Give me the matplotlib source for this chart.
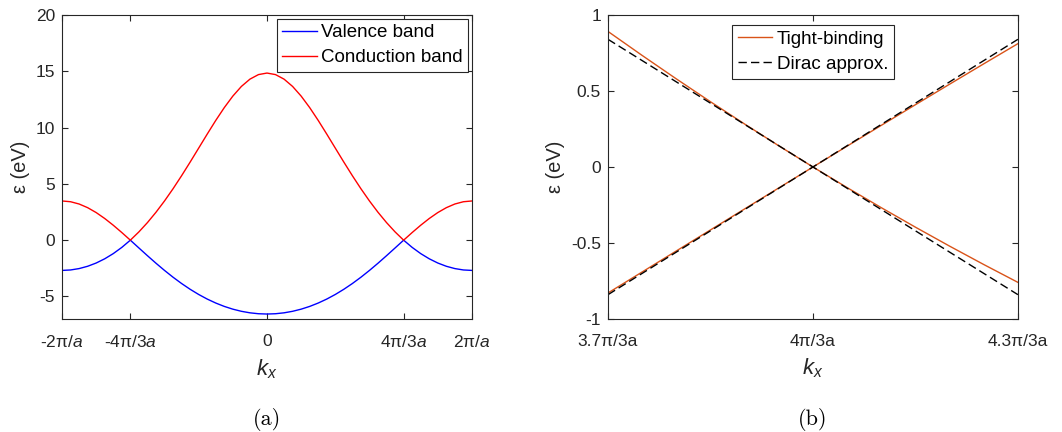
import numpy as np
import matplotlib
matplotlib.use("Agg")
import matplotlib.pyplot as plt

plt.rcParams['font.family'] = ['Liberation Sans', 'DejaVu Sans']
plt.rcParams['mathtext.fontset'] = 'custom'
plt.rcParams['mathtext.rm'] = 'Liberation Sans'
plt.rcParams['mathtext.it'] = 'Liberation Sans:italic'

# panel (a): kx in units of pi/a, sampled every 1/12
k_twelfths = list(range(-24, 25))
cond_half = [14.843, 14.706, 14.301, 13.653, 12.796, 11.774, 10.634, 9.420, 8.175,
             6.933, 5.724, 4.568, 3.482, 2.477, 1.560, 0.734, 0.000, 0.679, 1.327,
             1.925, 2.452, 2.887, 3.213, 3.414, 3.482]
val_half = [-6.560, -6.533, -6.452, -6.317, -6.127, -5.883, -5.583, -5.230, -4.822,
            -4.361, -3.849, -3.290, -2.686, -2.046, -1.377, -0.691, 0.000, -0.642,
            -1.193, -1.654, -2.029, -2.318, -2.523, -2.646, -2.686]
conduction = cond_half[:0:-1] + cond_half
valence = val_half[:0:-1] + val_half
ticks_a = [-2, -4 / 3, 0, 4 / 3, 2]
ticklabels_a = [r'-2π/$a$', r'-4π/3$a$', '0', r'4π/3$a$', r'2π/$a$']

# panel (b): kx in units of pi/3a near K
k_b = [3.70, 3.75, 3.80, 3.85, 3.90, 3.95, 4.00, 4.05, 4.10, 4.15, 4.20, 4.25, 4.30]
tb_upper = [0.8917, 0.7339, 0.5797, 0.4292, 0.2825, 0.1394, 0.0, 0.1373, 0.2739,
            0.4098, 0.5448, 0.6788, 0.8115]
tb_lower = [-0.8289, -0.6907, -0.5524, -0.4141, -0.2758, -0.1377, 0.0, -0.1357,
            -0.2677, -0.3960, -0.5207, -0.6417, -0.7591]
k_dirac = [3.7, 4.0, 4.3]
dirac_upper = [0.84, 0.0, 0.84]
dirac_lower = [-0.84, 0.0, -0.84]
ticks_b = [3.7, 4.0, 4.3]
ticklabels_b = ['3.7π/3a', '4π/3a', '4.3π/3a']

gray = '#262626'
fig = plt.figure(figsize=(10.62, 4.32), dpi=100)
ax1 = fig.add_axes([0.0584, 0.2616, 0.386, 0.7037])
ax2 = fig.add_axes([0.5725, 0.2616, 0.386, 0.7037])

k_a = np.array(k_twelfths) / 12
ax1.plot(k_a, valence, color='blue', lw=1.0, label='Valence band')
ax1.plot(k_a, conduction, color='red', lw=1.0, label='Conduction band')
ax1.set_xlim(-2, 2)
ax1.set_ylim(-7, 20)
ax1.set_yticks([-5, 0, 5, 10, 15, 20])
ax1.set_yticklabels(['-5', '0', '5', '10', '15', '20'])
ax1.set_xticks(ticks_a)
ax1.set_xticklabels(ticklabels_a)
leg_kw = dict(fontsize=13.5, fancybox=False, framealpha=1, edgecolor=gray,
              handlelength=1.85, borderpad=0.3, labelspacing=0.42,
              handletextpad=0.22)
leg1 = ax1.legend(loc='upper right', borderaxespad=0.2, **leg_kw)
leg1.get_frame().set_linewidth(0.8)

orange = '#D95319'
ax2.plot(k_b, tb_upper, color=orange, lw=1.0, label='Tight-binding')
ax2.plot(k_b, tb_lower, color=orange, lw=1.0)
ax2.plot(k_dirac, dirac_upper, color='black', lw=1.0, dashes=(6, 3), label='Dirac approx.')
ax2.plot(k_dirac, dirac_lower, color='black', lw=1.0, dashes=(6, 3))
ax2.set_xlim(3.7, 4.3)
ax2.set_ylim(-1, 1)
ax2.set_yticks([-1, -0.5, 0, 0.5, 1])
ax2.set_yticklabels(['-1', '-0.5', '0', '0.5', '1'])
ax2.set_xticks(ticks_b)
ax2.set_xticklabels(ticklabels_b)
leg2 = ax2.legend(loc='upper center', borderaxespad=0.55, **leg_kw)
leg2.get_frame().set_linewidth(0.8)

for ax in (ax1, ax2):
    for sp in ax.spines.values():
        sp.set_color(gray)
        sp.set_linewidth(0.8)
    ax.tick_params(direction='in', top=True, right=True, length=4, width=0.8,
                   color=gray, labelcolor=gray, labelsize=12.5)
    ax.tick_params(axis='x', pad=11)
    ax.tick_params(axis='y', pad=5)
    ax.set_xlabel(r'$k_x$', fontsize=16, color=gray, labelpad=5)
    ax.set_ylabel('ε (eV)', fontsize=14.5, color=gray, labelpad=4)

fig.text(0.2514, 0.030, '(a)', family='cmr10', fontsize=16, ha='center', va='center')
fig.text(0.7655, 0.030, '(b)', family='cmr10', fontsize=16, ha='center', va='center')

fig.savefig('out.png', dpi=100)
